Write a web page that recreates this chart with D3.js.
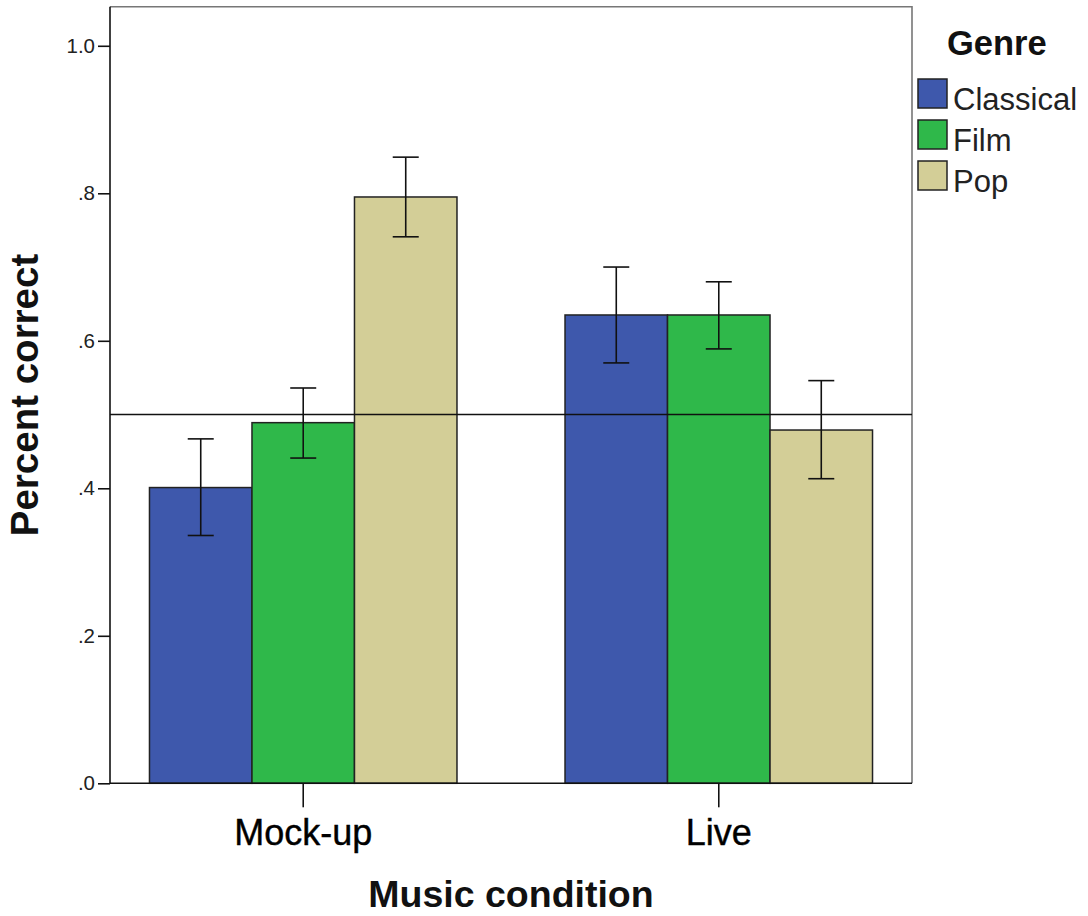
<!DOCTYPE html>
<html>
<head>
<meta charset="utf-8">
<script src="https://cdn.jsdelivr.net/npm/d3@7"></script>
<style>
  html, body { margin: 0; padding: 0; background: #fff; }
  svg { display: block; font-family: "Liberation Sans", Arial, sans-serif; }
</style>
</head>
<body>
<svg id="chart" width="1088" height="916"></svg>
<script>
// ---- data ----
const conditions = ["Mock-up", "Live"];
const genres = ["Classical", "Film", "Pop"];
const genreColors = ["#3E58AC", "#2FB84A", "#D3CE97"];
const meanMock = [0.401, 0.489, 0.795];
const meanLive = [0.635, 0.635, 0.479];
const lowerMock = [0.336, 0.441, 0.741];
const upperMock = [0.467, 0.536, 0.849];
const lowerLive = [0.570, 0.589, 0.413];
const upperLive = [0.700, 0.680, 0.546];
const yTickValues = [0, 0.2, 0.4, 0.6, 0.8, 1.0];
const yTickLabels = [".0", ".2", ".4", ".6", ".8", "1.0"];
const referenceValue = 0.5;
const yTitle = "Percent correct";
const xTitle = "Music condition";
const legendTitle = "Genre";

const means = [meanMock, meanLive];
const lowers = [lowerMock, lowerLive];
const uppers = [upperMock, upperLive];
const rows = [];
conditions.forEach((c, i) => genres.forEach((g, j) => rows.push({
  cond: c, genre: g, color: genreColors[j],
  mean: means[i][j], lo: lowers[i][j], hi: uppers[i][j]
})));

// ---- layout ----
const svg = d3.select("#chart");
const L = 110, R = 912, T = 6.7, B = 783.3;

const x = d3.scaleBand().domain(conditions).range([L, R]).paddingInner(0.26).paddingOuter(0.095);
const xs = d3.scaleBand().domain(genres).range([0, x.bandwidth()]);
const y = d3.scaleLinear().domain([0, 1.053]).range([B, T]);

// frame (top and right)
svg.append("path")
  .attr("d", `M${L},${T}H${R}V${B}`)
  .attr("fill", "none").attr("stroke", "#777").attr("stroke-width", 1.6);

// bars
svg.append("g").selectAll("rect").data(rows).join("rect")
  .attr("x", d => x(d.cond) + xs(d.genre))
  .attr("y", d => y(d.mean))
  .attr("width", xs.bandwidth())
  .attr("height", d => y(0) - y(d.mean))
  .attr("fill", d => d.color)
  .attr("stroke", "#222").attr("stroke-width", 1.5);

// reference line
svg.append("line")
  .attr("x1", L).attr("x2", R)
  .attr("y1", y(referenceValue)).attr("y2", y(referenceValue))
  .attr("stroke", "#111").attr("stroke-width", 1.5);

// error bars
const eb = svg.append("g").attr("stroke", "#111").attr("stroke-width", 1.6).attr("fill", "none");
rows.forEach(d => {
  const cx = x(d.cond) + xs(d.genre) + xs.bandwidth() / 2;
  eb.append("line").attr("x1", cx).attr("x2", cx).attr("y1", y(d.lo)).attr("y2", y(d.hi));
  eb.append("line").attr("x1", cx - 13).attr("x2", cx + 13).attr("y1", y(d.lo)).attr("y2", y(d.lo));
  eb.append("line").attr("x1", cx - 13).attr("x2", cx + 13).attr("y1", y(d.hi)).attr("y2", y(d.hi));
});

// y axis
const yAxis = d3.axisLeft(y).tickValues(yTickValues)
  .tickFormat((d, i) => yTickLabels[i]).tickSize(12).tickPadding(3).tickSizeOuter(0);
const gy = svg.append("g").attr("transform", `translate(${L},0)`).call(yAxis);
gy.select(".domain").attr("stroke", "#111").attr("stroke-width", 1.6).attr("d", `M0,${B}V${T}`);
gy.selectAll(".tick line").attr("stroke", "#111").attr("stroke-width", 1.6);
gy.selectAll(".tick text").attr("fill", "#222").style("font-size", "20.5px")
  .style("font-family", "'Liberation Sans', Arial, sans-serif");

// x axis
const xAxis = d3.axisBottom(x).tickSize(24).tickPadding(12).tickSizeOuter(0);
const gx = svg.append("g").attr("transform", `translate(0,${B})`).call(xAxis);
gx.select(".domain").attr("stroke", "#111").attr("stroke-width", 1.6).attr("d", `M${L},0H${R}`);
gx.selectAll(".tick line").attr("stroke", "#111").attr("stroke-width", 1.6);
gx.selectAll(".tick text").attr("fill", "#000").attr("dy", null).attr("y", 62)
  .attr("stroke", "#000").attr("stroke-width", 0.4)
  .style("font-size", "36px").style("font-family", "'Liberation Sans', Arial, sans-serif");

// titles
svg.append("text").attr("x", (L + R) / 2).attr("y", 907)
  .attr("text-anchor", "middle").attr("font-weight", "bold").attr("font-size", 37.5).attr("fill", "#111")
  .text(xTitle);
svg.append("text").attr("transform", `translate(38,${(T + B) / 2}) rotate(-90)`)
  .attr("text-anchor", "middle").attr("font-weight", "bold").attr("font-size", 38.5).attr("fill", "#111")
  .text(yTitle);

// legend
const lg = svg.append("g");
lg.append("text").attr("x", 947).attr("y", 55).attr("font-weight", "bold").attr("font-size", 34.5)
  .attr("fill", "#111").text(legendTitle);
genres.forEach((g, j) => {
  const top = 79 + j * 41;
  lg.append("rect").attr("x", 918).attr("y", top).attr("width", 29).attr("height", 29)
    .attr("fill", genreColors[j]).attr("stroke", "#222").attr("stroke-width", 1.5);
  lg.append("text").attr("x", 953).attr("y", top + 31).attr("font-size", 31).attr("fill", "#222").text(g);
});
</script>
</body>
</html>
